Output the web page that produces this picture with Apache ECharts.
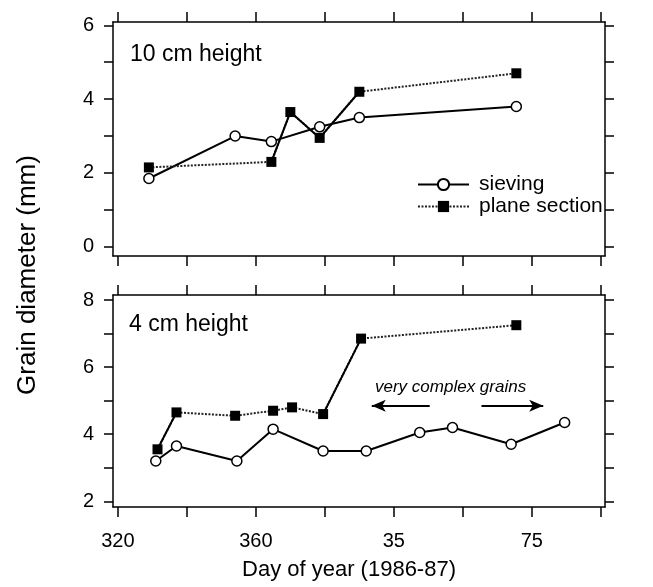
<!DOCTYPE html>
<html>
<head>
<meta charset="utf-8">
<title>Grain diameter</title>
<style>
  html, body { margin: 0; padding: 0; background: #fff; }
  #chart { width: 653px; height: 587px; }
</style>
</head>
<body>
<div id="chart"></div>
<script src="https://cdn.jsdelivr.net/npm/echarts@6/dist/echarts.min.js"></script>
<script>
// day of year, continuous across the new year (day > 365 means 1987)
var xTicks = [320, 340, 360, 380, 400, 420, 440, 460];
var xLabels = [320, 360, 400, 440];

// 10 cm height
var topSieveDays = [329, 354, 364.5, 378.5, 390, 435.5];
var topSieve = [1.85, 3.0, 2.85, 3.25, 3.5, 3.8];
var topPlaneDays = [329, 364.5, 370, 378.5, 390, 435.5];
var topPlane = [2.15, 2.3, 3.65, 2.95, 4.2, 4.7];
var topPlaneSolid = [1, 2, 3];          // segments drawn solid (steep)

// 4 cm height
var botSieveDays = [331, 337, 354.5, 365, 379.5, 392, 407.5, 417, 434, 449.5];
var botSieve = [3.2, 3.65, 3.2, 4.15, 3.5, 3.5, 4.05, 4.2, 3.7, 4.35];
var botPlaneDays = [331.5, 337, 354, 365, 370.5, 379.5, 390.5, 435.5];
var botPlane = [3.55, 4.65, 4.55, 4.7, 4.8, 4.6, 6.85, 7.25];
var botPlaneSolid = [0, 5];

// "very complex grains" arrows: [from, to] days at y
var arrowY = 4.85;
var arrows = [[410.4, 393.6], [425.4, 443.3]];

var FONT = '"Liberation Sans", Arial, Helvetica, sans-serif';

function pairs(xs, ys) {
    var out = [];
    for (var i = 0; i < xs.length; i++) out.push([xs[i], ys[i]]);
    return out;
}
// keep only points that belong to the solid segments
function solidPart(xs, ys, segs) {
    var out = [];
    for (var i = 0; i < xs.length; i++) {
        var keep = segs.indexOf(i) >= 0 || segs.indexOf(i - 1) >= 0;
        out.push(keep ? [xs[i], ys[i]] : [xs[i], null]);
    }
    return out;
}

function xAx(grid, pos, showLabel) {
    return {
        type: 'value', gridIndex: grid, position: pos,
        min: 318.6, max: 461.2,
        axisLine: { show: true, onZero: false, lineStyle: { color: '#000', width: 1.5 } },
        axisTick: { show: true, inside: false, length: 10, customValues: xTicks, lineStyle: { color: '#000', width: 1.5 } },
        axisLabel: {
            show: showLabel, customValues: xLabels, margin: 24,
            color: '#000', fontSize: 20, fontFamily: FONT,
            formatter: function (v) { return v > 365 ? String(v - 365) : String(v); }
        },
        splitLine: { show: false }
    };
}
function yAx(grid, pos, min, max, ticks, labels, showLabel) {
    return {
        type: 'value', gridIndex: grid, position: pos,
        min: min, max: max,
        axisLine: { show: true, onZero: false, lineStyle: { color: '#000', width: 1.5 } },
        axisTick: { show: true, inside: false, length: 9, customValues: ticks, lineStyle: { color: '#000', width: 1.5 } },
        axisLabel: { show: showLabel, customValues: labels, margin: 19, color: '#000', fontSize: 20, fontFamily: FONT },
        splitLine: { show: false }
    };
}

var circleStyle = { color: '#fff', borderColor: '#000', borderWidth: 1.5 };
var squareStyle = { color: '#000', borderColor: '#000', borderWidth: 0 };
var dotted = { color: '#222', width: 2, type: [2, 1.5] };
var solid = { color: '#000', width: 2, type: 'solid' };

function sieveSeries(ax, data) {
    return {
        name: 'sieving', type: 'line', xAxisIndex: ax, yAxisIndex: ax,
        data: data, symbol: 'circle', symbolSize: 10,
        lineStyle: solid, itemStyle: circleStyle, z: 3, animation: false
    };
}
function planeSeries(ax, data) {
    return {
        name: 'plane section', type: 'line', xAxisIndex: ax, yAxisIndex: ax,
        data: data, symbol: 'rect', symbolSize: 10,
        lineStyle: dotted, itemStyle: squareStyle, z: 4, animation: false
    };
}
function planeSolid(ax, data) {
    return {
        name: 'plane-solid', type: 'line', xAxisIndex: ax, yAxisIndex: ax,
        data: data, showSymbol: false, connectNulls: false,
        lineStyle: solid, z: 4, silent: true, animation: false
    };
}

var botSieveS = sieveSeries(2, pairs(botSieveDays, botSieve));
botSieveS.markLine = {
    silent: true, animation: false,
    symbol: ['none', 'arrow'], symbolSize: [9, 14],
    lineStyle: { color: '#000', width: 2, type: 'solid' },
    label: { show: false },
    data: arrows.map(function (a) {
        return [{ coord: [a[0], arrowY] }, { coord: [a[1], arrowY] }];
    })
};

var chart = echarts.init(document.getElementById('chart'));
var option = {
    backgroundColor: '#fff',
    animation: false,
    grid: [
        { left: 113, top: 22, width: 492, height: 234 },
        { left: 113, top: 295, width: 492, height: 212 }
    ],
    xAxis: [
        xAx(0, 'bottom', false), xAx(0, 'top', false),
        Object.assign(xAx(1, 'bottom', true), {
            name: 'Day of year (1986-87)', nameLocation: 'middle', nameGap: 52,
            nameTextStyle: { color: '#000', fontSize: 22, fontFamily: FONT, padding: [0, 20, 0, 0] }
        }),
        xAx(1, 'top', false)
    ],
    yAxis: [
        yAx(0, 'left', -0.25, 6.09, [0, 1, 2, 3, 4, 5, 6], [0, 2, 4, 6], true),
        yAx(0, 'right', -0.25, 6.09, [0, 1, 2, 3, 4, 5, 6], [0, 2, 4, 6], false),
        yAx(1, 'left', 1.83, 8.15, [2, 3, 4, 5, 6, 7, 8], [2, 4, 6, 8], true),
        yAx(1, 'right', 1.83, 8.15, [2, 3, 4, 5, 6, 7, 8], [2, 4, 6, 8], false)
    ],
    legend: {
        data: ['sieving', 'plane section'],
        orient: 'vertical', left: 417, top: 174, padding: 0,
        itemWidth: 51, itemHeight: 14, itemGap: 1,
        textStyle: { color: '#000', fontSize: 21, fontFamily: FONT, padding: [0, 0, 0, 5] }
    },
    graphic: [
        { type: 'text', left: 130, top: 43, style: { text: '10 cm height', fontSize: 23, fontFamily: FONT, fill: '#000' } },
        { type: 'text', left: 129, top: 313, style: { text: '4 cm height', fontSize: 23, fontFamily: FONT, fill: '#000' } },
        { type: 'text', left: 375, top: 379, style: { text: 'very complex grains', fontSize: 17, fontStyle: 'italic', fontFamily: FONT, fill: '#000' } },
        {
            type: 'text', x: 28, y: 275, rotation: Math.PI / 2,
            style: { text: 'Grain diameter (mm)', fontSize: 26, fontFamily: FONT, fill: '#000', align: 'center', verticalAlign: 'middle' }
        }
    ],
    series: [
        sieveSeries(0, pairs(topSieveDays, topSieve)),
        planeSeries(0, pairs(topPlaneDays, topPlane)),
        planeSolid(0, solidPart(topPlaneDays, topPlane, topPlaneSolid)),
        botSieveS,
        planeSeries(2, pairs(botPlaneDays, botPlane)),
        planeSolid(2, solidPart(botPlaneDays, botPlane, botPlaneSolid))
    ]
};
chart.setOption(option);
</script>
</body>
</html>
